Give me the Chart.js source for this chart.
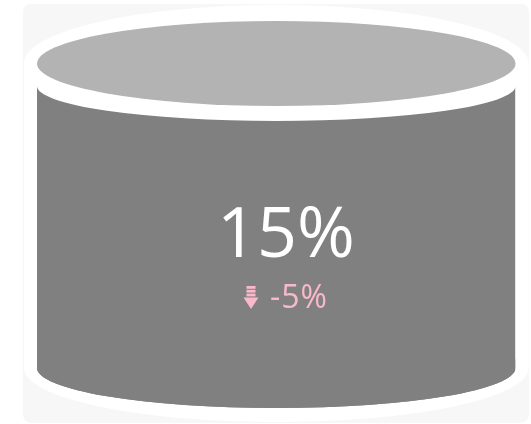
<!DOCTYPE html>
<html>
<head>
<meta charset="utf-8">
<script src="https://cdn.jsdelivr.net/npm/chart.js@4"></script>
<style>
  html, body { margin: 0; padding: 0; background: #ffffff; }
  #wrap { width: 531px; height: 424px; }
</style>
</head>
<body>
<div id="wrap"><canvas id="tank" width="531" height="424"></canvas></div>
<script>
// Cylinder gauge: current fill level and its change
const categories = ['Level'];
const capacityValues = [100];
const levelValues = [15];
const changeValues = [-5];

const BODY_GREY = '#808080';
const LID_GREY = '#b3b3b3';
const PANEL = '#f7f7f7';
const CHANGE_PINK = '#f9b9cb';

// Ellipse radii of the lid, the body's upper rim and its base
const LID_RY = 42.5;
const RIM_RY = 35;
const BASE_RY = 40;
const LID_RISE = 22.5;   // lid centre sits this far above the body top
const FRAME = 13;        // white frame around the cylinder

function geometry(chart) {
  const bar = chart.getDatasetMeta(0).data[0];
  const left = bar.x - bar.width / 2;
  const right = bar.x + bar.width / 2;
  const top = bar.y;                 // capacity bar top = upper rim centre
  const baseY = chart.chartArea.bottom - BASE_RY;
  return { left, right, cx: bar.x, rx: bar.width / 2, top, baseY, lidY: top - LID_RISE };
}

function bodyPath(ctx, g) {
  ctx.beginPath();
  ctx.moveTo(g.left, g.top);
  ctx.ellipse(g.cx, g.top, g.rx, RIM_RY, 0, Math.PI, 0, true);
  ctx.lineTo(g.right, g.baseY);
  ctx.ellipse(g.cx, g.baseY, g.rx, BASE_RY, 0, 0, Math.PI, false);
  ctx.closePath();
}

const cylinderPlugin = {
  id: 'cylinder',
  beforeDatasetsDraw(chart) {
    const ctx = chart.ctx;
    const g = geometry(chart);
    ctx.save();
    // card
    ctx.fillStyle = PANEL;
    ctx.beginPath();
    ctx.roundRect(23, 4, 506, 419, 8);
    ctx.fill();
    // white frame hugging the cylinder
    const orx = g.rx + FRAME;
    ctx.fillStyle = '#ffffff';
    ctx.beginPath();
    ctx.moveTo(g.cx - orx, g.lidY);
    ctx.ellipse(g.cx, g.lidY, orx, LID_RY + 16, 0, Math.PI, 0, false);
    ctx.lineTo(g.cx + orx, g.baseY);
    ctx.ellipse(g.cx, g.baseY, orx, BASE_RY + 14, 0, 0, Math.PI, false);
    ctx.closePath();
    ctx.fill();
    ctx.restore();
    // bars are painted inside the cylinder body only
    ctx.save();
    bodyPath(ctx, g);
    ctx.clip();
  },
  afterDatasetsDraw(chart) {
    const ctx = chart.ctx;
    ctx.restore();
    const g = geometry(chart);
    ctx.save();
    // lid
    ctx.fillStyle = LID_GREY;
    ctx.beginPath();
    ctx.ellipse(g.cx, g.lidY, g.rx, LID_RY, 0, 0, Math.PI * 2);
    ctx.fill();

    // main value
    const level = levelValues[0];
    ctx.fillStyle = '#ffffff';
    ctx.font = '70px "Open Sans"';
    ctx.textAlign = 'center';
    ctx.textBaseline = 'alphabetic';
    ctx.fillText(level + '%', 286, 257);

    // change row: arrow icon + value
    const change = changeValues[0];
    ctx.fillStyle = CHANGE_PINK;
    const ax = 251, ay = 286;
    ctx.fillRect(ax - 4.5, ay, 9, 2.8);
    ctx.fillRect(ax - 4.5, ay + 3.8, 9, 2.8);
    ctx.fillRect(ax - 4.5, ay + 7.6, 9, 2.8);
    ctx.beginPath();
    ctx.moveTo(ax - 7.5, ay + 11.4);
    ctx.lineTo(ax + 7.5, ay + 11.4);
    ctx.lineTo(ax, ay + 23);
    ctx.closePath();
    ctx.fill();

    ctx.font = '32px "Open Sans"';
    ctx.letterSpacing = '1px';
    ctx.textAlign = 'left';
    ctx.fillText(change + '%', 270, 308);
    ctx.restore();
  }
};

new Chart(document.getElementById('tank'), {
  type: 'bar',
  data: {
    labels: categories,
    datasets: [
      { label: 'Capacity', data: capacityValues, backgroundColor: BODY_GREY, borderWidth: 0,
        barPercentage: 1, categoryPercentage: 1, grouped: false, order: 2 },
      { label: 'Level', data: levelValues, backgroundColor: BODY_GREY, borderWidth: 0,
        barPercentage: 1, categoryPercentage: 1, grouped: false, order: 1 }
    ]
  },
  options: {
    responsive: false,
    animation: false,
    layout: { padding: { left: 37, right: 15.5, top: 86, bottom: 16 } },
    scales: {
      x: { display: false },
      y: { display: false, min: 0, max: 100 }
    },
    plugins: {
      legend: { display: false },
      tooltip: { enabled: false }
    }
  },
  plugins: [cylinderPlugin]
});
</script>
</body>
</html>
